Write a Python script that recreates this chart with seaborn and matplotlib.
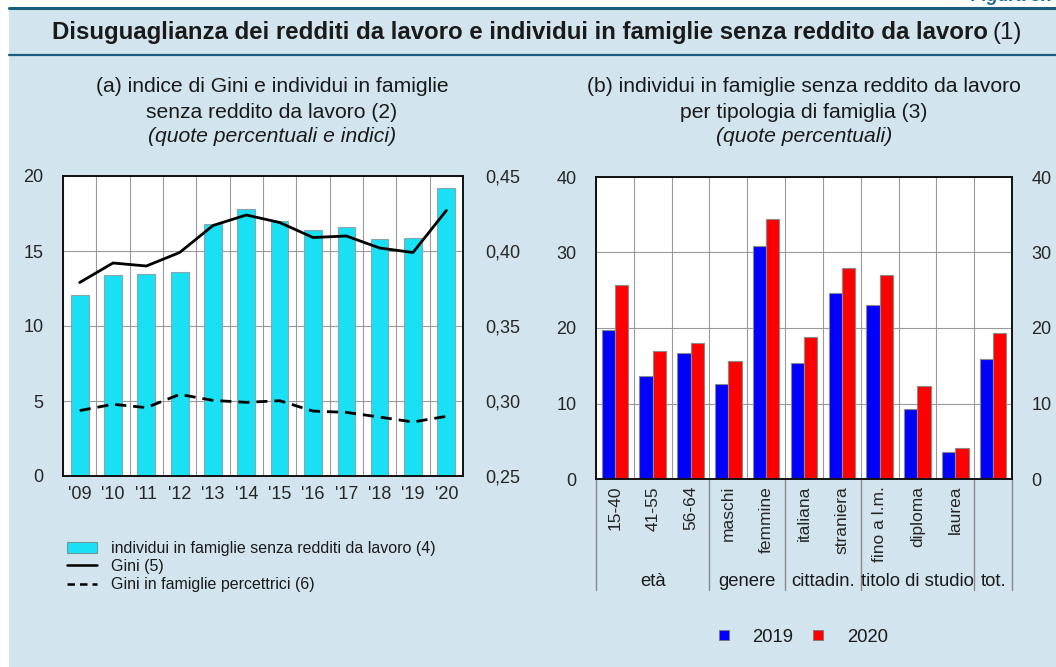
import numpy as np
import pandas as pd
import matplotlib
matplotlib.use("Agg")
import matplotlib.pyplot as plt
import matplotlib.transforms as mtransforms
from matplotlib.patches import Patch, Rectangle
from matplotlib.lines import Line2D
import seaborn as sns

# ---------------- data ----------------
years = ["'09", "'10", "'11", "'12", "'13", "'14", "'15", "'16", "'17", "'18", "'19", "'20"]
no_work_income = [12.1, 13.4, 13.5, 13.6, 16.8, 17.8, 17.0, 16.4, 16.6, 15.8, 15.85, 19.2]
gini = [0.379, 0.392, 0.390, 0.399, 0.417, 0.424, 0.419, 0.409, 0.410, 0.402, 0.399, 0.427]
gini_earners = [0.2936, 0.2978, 0.2956, 0.3044, 0.3004, 0.2991, 0.3002, 0.2933, 0.2924, 0.2893, 0.286, 0.2898]

categories = ["15-40", "41-55", "56-64", "maschi", "femmine", "italiana", "straniera",
              "fino a l.m.", "diploma", "laurea", "tot."]
values_2019 = [19.8, 13.7, 16.7, 12.55, 30.9, 15.4, 24.7, 23.0, 9.25, 3.57, 15.9]
values_2020 = [25.7, 17.0, 18.0, 15.6, 34.5, 18.8, 27.9, 27.05, 12.3, 4.1, 19.3]
cat_tick_labels = ["15-40", "41-55", "56-64", "maschi", "femmine", "italiana", "straniera",
                   "fino a l.m.", "diploma", "laurea", ""]
groups = ["età", "genere", "cittadin.", "titolo di studio", "tot."]
group_sizes = [3, 2, 2, 3, 1]
series_years = ["2019", "2020"]

# ---------------- style ----------------
BG = "#d2e4ee"
DARK = "#1b5b7c"
GRID = "#9a9a9a"
CYAN = "#19e0f4"
W, H = 1056, 667
TICK_FS = 13
SUB_FS = 15.2

sns.set_theme(style="white")
plt.rcParams["font.family"] = ["Liberation Sans", "DejaVu Sans"]
plt.rcParams["text.color"] = "#1a1a1a"

fig = plt.figure(figsize=(W / 100, H / 100), dpi=100)
fig.patch.set_facecolor("white")

# background panel
fig.patches.append(Rectangle((9 / W, 0), 1 - 9 / W, 1 - 8 / H, transform=fig.transFigure,
                             facecolor=BG, edgecolor="none", zorder=-10))
fig.add_artist(Line2D([9 / W, 1], [1 - 8 / H, 1 - 8 / H], color=DARK, lw=2.2))
fig.add_artist(Line2D([9 / W, 1], [1 - 55 / H, 1 - 55 / H], color=DARK, lw=1.6))
fig.text(1.0, 1 - 5 / H, "Figura 5.7", ha="right", va="bottom", fontsize=13,
         fontweight="bold", color="#1a6a96", fontstyle="italic")

# title
TITLE_FS = 17.3
t1 = fig.text(52 / W, 1 - 33 / H, "Disuguaglianza dei redditi da lavoro e individui in famiglie senza reddito da lavoro",
              ha="left", va="center", fontsize=TITLE_FS, fontweight="bold")
fig.canvas.draw()
bb = t1.get_window_extent(renderer=fig.canvas.get_renderer())
fig.text(bb.x1 / W + 5 / W, 1 - 33 / H, "(1)", ha="left", va="center", fontsize=TITLE_FS)


def px_axes(x0, y0, x1, y1):
    return fig.add_axes([x0 / W, 1 - y1 / H, (x1 - x0) / W, (y1 - y0) / H])


def style_spines(ax):
    for s in ax.spines.values():
        s.set_color("#111111")
        s.set_linewidth(1.2)


# ---------------- left panel ----------------
axL = px_axes(63, 176, 463, 476)
dfL = pd.DataFrame({"anno": years, "quota": no_work_income})
sns.barplot(data=dfL, x="anno", y="quota", ax=axL, color=CYAN, width=0.53,
            edgecolor="#8aa6ad", linewidth=0.8, saturation=1, zorder=2)
n = len(years)
axL.set_xlim(-0.5, n - 0.5)
axL.set_ylim(0, 20)
axL.set_yticks([0, 5, 10, 15, 20])
axL.set_xticks(np.arange(n + 1) - 0.5, minor=True)
axL.grid(which="minor", axis="x", color=GRID, lw=0.8, zorder=0)
axL.grid(which="major", axis="y", color=GRID, lw=0.8, zorder=0)
axL.set_axisbelow(True)
axL.set_xlabel("")
axL.set_ylabel("")
axL.tick_params(axis="both", which="both", length=0, labelsize=TICK_FS)
axL.tick_params(axis="y", pad=14)
axL.tick_params(axis="x", pad=7)
style_spines(axL)

axL2 = axL.twinx()
pos = np.arange(n)
sns.lineplot(x=pos, y=gini, ax=axL2, color="black", lw=2.0, zorder=5)
sns.lineplot(x=pos, y=gini_earners, ax=axL2, color="black", lw=2.0, zorder=5)
axL2.lines[1].set_dashes([4, 2.5])
axL2.set_ylim(0.25, 0.45)
axL2.set_yticks([0.25, 0.30, 0.35, 0.40, 0.45])
axL2.set_yticklabels([f"{v:.2f}".replace(".", ",") for v in [0.25, 0.30, 0.35, 0.40, 0.45]])
axL2.tick_params(axis="y", length=0, labelsize=TICK_FS, pad=16)
axL2.grid(False)
axL2.set_xlim(-0.5, n - 0.5)
style_spines(axL2)

fig.text(272 / W, 1 - 87 / H, "(a) indice di Gini e individui in famiglie", ha="center", va="center", fontsize=SUB_FS)
fig.text(272 / W, 1 - 112 / H, "senza reddito da lavoro (2)", ha="center", va="center", fontsize=SUB_FS)
fig.text(272 / W, 1 - 137 / H, "(quote percentuali e indici)", ha="center", va="center", fontsize=SUB_FS,
         fontstyle="italic")

handlesL = [Patch(facecolor=CYAN, edgecolor="#6c9aa3", lw=0.8),
            Line2D([], [], color="black", lw=1.8),
            Line2D([], [], color="black", lw=1.8, dashes=[3, 2])]
labelsL = ["individui in famiglie senza redditi da lavoro (4)", "Gini (5)", "Gini in famiglie percettrici (6)"]
fig.legend(handlesL, labelsL, loc="upper left", bbox_to_anchor=(67 / W, 1 - 541 / H), frameon=False,
           fontsize=11.5, handlelength=1.9, handleheight=0.75, handletextpad=0.85, labelspacing=0.2,
           borderaxespad=0, borderpad=0)

# ---------------- right panel ----------------
axR = px_axes(596, 177, 1012, 479)
dfR = pd.DataFrame({
    "categoria": categories * 2,
    "anno": ["2019"] * len(categories) + ["2020"] * len(categories),
    "quota": values_2019 + values_2020,
})
sns.barplot(data=dfR, x="categoria", y="quota", hue="anno", order=categories, hue_order=series_years,
            palette=["#0000ff", "#ff0000"], width=0.7, gap=0, edgecolor="#8a8a8a", linewidth=0.8,
            saturation=1, ax=axR, legend=False, zorder=2)
m = len(categories)
axR.set_xlim(-0.5, m - 0.5)
axR.set_ylim(0, 40)
axR.set_yticks([0, 10, 20, 30, 40])
axR.set_xticks(np.arange(m))
axR.set_xticklabels(cat_tick_labels, rotation=90)
axR.set_xticks(np.arange(m + 1) - 0.5, minor=True)
axR.grid(which="minor", axis="x", color=GRID, lw=0.8, zorder=0)
axR.grid(which="major", axis="y", color=GRID, lw=0.8, zorder=0)
axR.set_axisbelow(True)
axR.set_xlabel("")
axR.set_ylabel("")
axR.tick_params(axis="both", which="both", length=0, labelsize=TICK_FS)
axR.tick_params(axis="x", labelsize=12.5, pad=5)
axR.tick_params(axis="y", pad=14)
style_spines(axR)

axR2 = axR.twinx()
axR2.set_ylim(0, 40)
axR2.set_yticks([0, 10, 20, 30, 40])
axR2.tick_params(axis="y", length=0, labelsize=TICK_FS, pad=14)
axR2.grid(False)
style_spines(axR2)

trans = mtransforms.blended_transform_factory(axR.transData, axR.transAxes)
ax_h = 479 - 177
bounds = np.concatenate([[0], np.cumsum(group_sizes)]) - 0.5
for b in bounds:
    axR.plot([b, b], [0, -(590 - 479) / ax_h], transform=trans, color="#888888", lw=1.0, clip_on=False)
for g, a, b in zip(groups, bounds[:-1], bounds[1:]):
    axR.text((a + b) / 2, -(582 - 479) / ax_h, g, transform=trans, ha="center", va="center", fontsize=13.3)

fig.text(804 / W, 1 - 87 / H, "(b) individui in famiglie senza reddito da lavoro", ha="center", va="center",
         fontsize=SUB_FS)
fig.text(804 / W, 1 - 112 / H, "per tipologia di famiglia (3)", ha="center", va="center", fontsize=SUB_FS)
fig.text(804 / W, 1 - 137 / H, "(quote percentuali)", ha="center", va="center", fontsize=SUB_FS,
         fontstyle="italic")

handlesR = [Line2D([], [], marker="s", ls="none", markersize=7.5, markerfacecolor=c, markeredgecolor="#777777",
                   markeredgewidth=0.6) for c in ["#0000ff", "#ff0000"]]
fig.legend(handlesR, series_years, loc="center", bbox_to_anchor=(802 / W, 1 - 637 / H), ncol=2, frameon=False,
           fontsize=13.3, handlelength=0.8, handletextpad=1.15, columnspacing=0.95, borderaxespad=0, borderpad=0)

fig.savefig("out.png", dpi=100, facecolor=fig.get_facecolor())
